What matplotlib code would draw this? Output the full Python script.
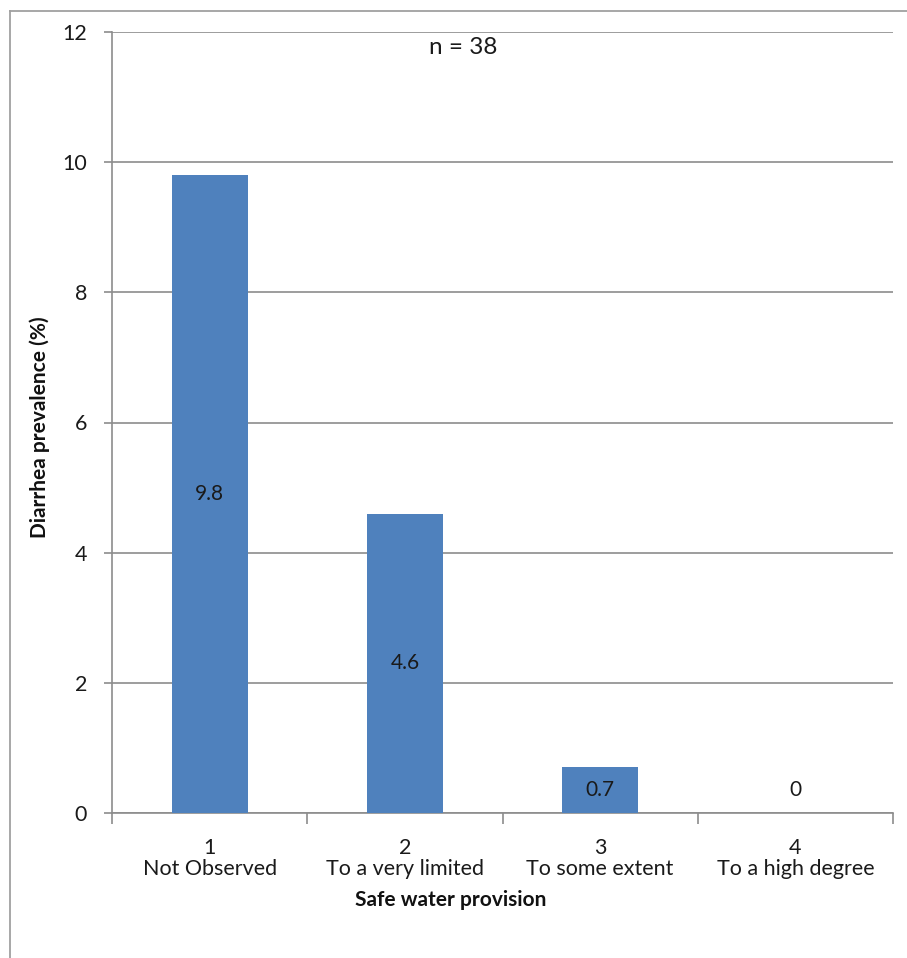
import matplotlib.pyplot as plt
from matplotlib.lines import Line2D

# data
levels = ["1", "2", "3", "4"]
level_names = ["Not Observed", "To a very limited", "To some extent", "To a high degree"]
prevalence = [9.8, 4.6, 0.7, 0]
n_total = 38

plt.rcParams["font.family"] = ["Lato", "DejaVu Sans"]

W, H = 907, 958
fig = plt.figure(figsize=(W / 100, H / 100), dpi=100)
ax = fig.add_axes([112 / W, 1 - 813 / H, (893 - 112) / W, (813 - 32) / H])

grid_col = "#8c8c8c"
x = range(len(prevalence))
ax.bar(x, prevalence, width=0.39, color="#4f81bd", zorder=3)

for xi, v in zip(x, prevalence):
    ax.text(xi, max(v / 2, 0.35), f"{v:g}", ha="center", va="center",
            fontsize=15, color="#1a1a1a", zorder=4)

ax.set_xlim(-0.5, len(prevalence) - 0.5)
ax.set_ylim(0, 12)
ax.set_yticks(range(0, 13, 2))
ax.yaxis.grid(True, color=grid_col, linewidth=1.2, zorder=0)

# category labels sit between boundary ticks
ax.set_xticks([i + 0.5 for i in range(-1, len(prevalence))])
ax.set_xticklabels([])
ax.tick_params(axis="x", direction="out", length=8, color=grid_col, width=1.2)
ax.tick_params(axis="y", direction="out", length=6, color=grid_col, width=1.2,
               labelsize=15.5, pad=12, labelcolor="#1a1a1a")
for xi, lv, nm in zip(x, levels, level_names):
    ax.text(xi, -0.54, lv, ha="center", va="center", fontsize=15.5,
            color="#1a1a1a", clip_on=False)
    ax.text(xi, -0.86, nm, ha="center", va="center", fontsize=15.5,
            color="#1a1a1a", clip_on=False)

for side in ["top", "right"]:
    ax.spines[side].set_visible(False)
for side in ["left", "bottom"]:
    ax.spines[side].set_color(grid_col)
    ax.spines[side].set_linewidth(1.2)

fig.text(40 / W, 1 - 427 / H, "Diarrhea prevalence (%)", rotation=90, ha="center",
         va="center", fontsize=15, fontweight="bold", color="#111111")
fig.text(451 / W, 1 - 900 / H, "Safe water provision", ha="center", va="center",
         fontsize=15, fontweight="bold", color="#111111")
fig.text(463 / W, 1 - 47 / H, f"n = {n_total}", ha="center", va="center",
         fontsize=17.5, color="#1a1a1a")

# outer chart frame (left and top edges only visible)
fx0, fy0 = 9.5 / W, 1 - 11 / H
fig.add_artist(Line2D([fx0, fx0], [0, fy0], color="#a0a0a0", linewidth=1.3))
fig.add_artist(Line2D([fx0, 1], [fy0, fy0], color="#a0a0a0", linewidth=1.3))

fig.savefig("out.png", dpi=100)
